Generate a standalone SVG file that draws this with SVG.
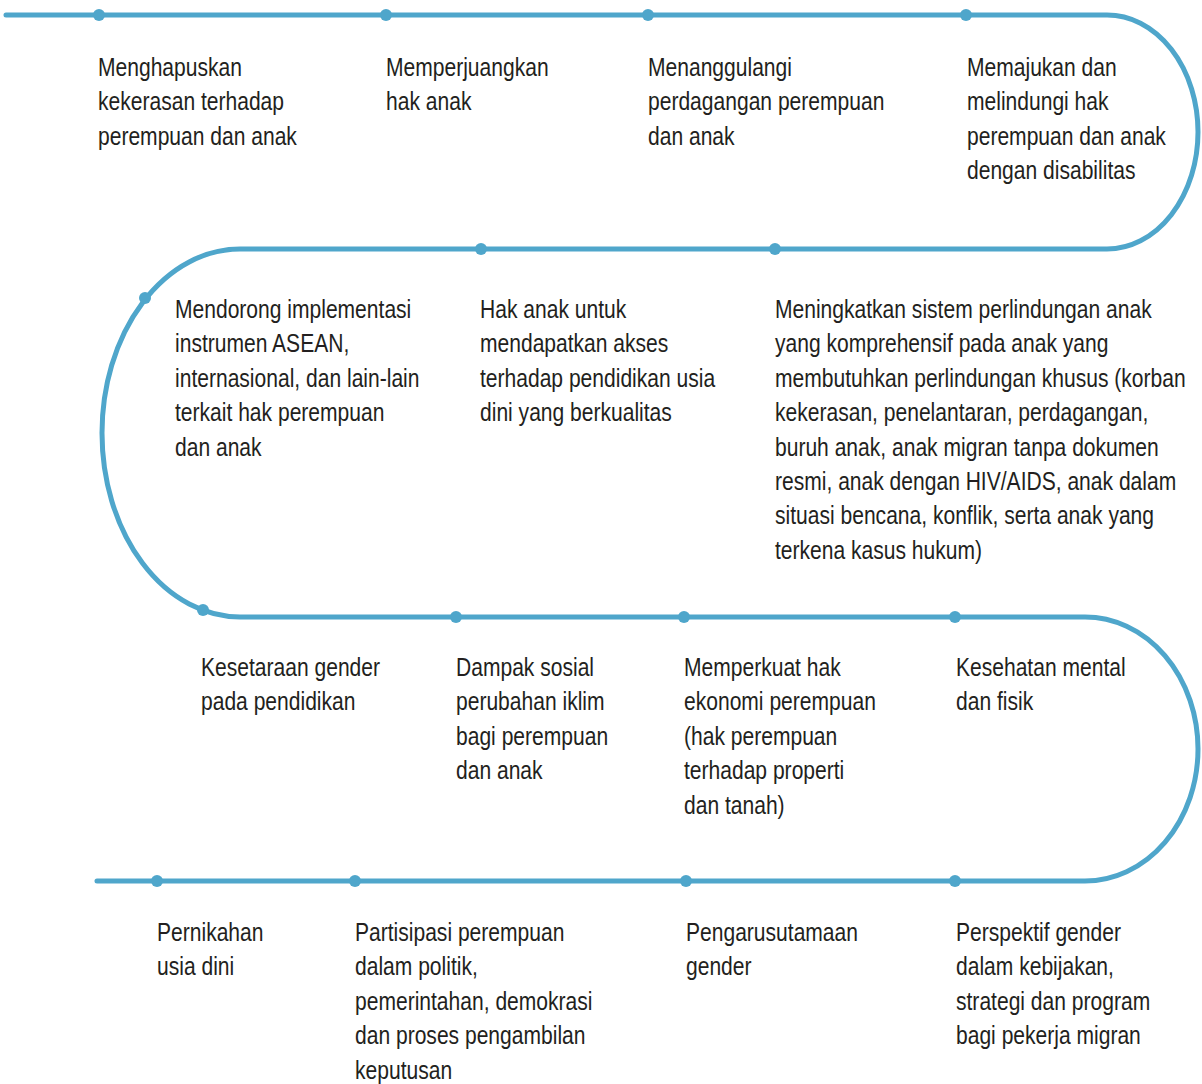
<svg xmlns="http://www.w3.org/2000/svg" width="1202" height="1084" viewBox="0 0 1202 1084">
<style>
.ln{fill:none;stroke:#4fa6cb;stroke-width:5;stroke-linecap:round}
.dot{fill:#4fa6cb}
.t{font-family:"Liberation Sans",Arial,sans-serif;font-size:26px;fill:#231f20}
</style>
<rect width="1202" height="1084" fill="#fff"/>
<g id="connectors">
<path class="ln" d="M6,15 H1107 A91,117 0 0 1 1107,249 H240 A138,184 0 0 0 240,617 H1085 A113,132 0 0 1 1085,881 H97"/>
</g>
<g id="n1"><circle class="dot" cx="99" cy="15" r="6"/><g transform="translate(98,0) scale(0.81,1)"><text class="t" y="76"><tspan x="0">Menghapuskan</tspan><tspan x="0" dy="34.4">kekerasan terhadap</tspan><tspan x="0" dy="34.4">perempuan dan anak</tspan></text></g></g>
<g id="n2"><circle class="dot" cx="386" cy="15" r="6"/><g transform="translate(386,0) scale(0.81,1)"><text class="t" y="76"><tspan x="0">Memperjuangkan</tspan><tspan x="0" dy="34.4">hak anak</tspan></text></g></g>
<g id="n3"><circle class="dot" cx="648" cy="15" r="6"/><g transform="translate(648,0) scale(0.81,1)"><text class="t" y="76"><tspan x="0">Menanggulangi</tspan><tspan x="0" dy="34.4">perdagangan perempuan</tspan><tspan x="0" dy="34.4">dan anak</tspan></text></g></g>
<g id="n4"><circle class="dot" cx="966" cy="15" r="6"/><g transform="translate(967,0) scale(0.81,1)"><text class="t" y="76"><tspan x="0">Memajukan dan</tspan><tspan x="0" dy="34.4">melindungi hak</tspan><tspan x="0" dy="34.4">perempuan dan anak</tspan><tspan x="0" dy="34.4">dengan disabilitas</tspan></text></g></g>
<g id="n5"><circle class="dot" cx="145" cy="298" r="6"/><g transform="translate(175,0) scale(0.81,1)"><text class="t" y="318"><tspan x="0">Mendorong implementasi</tspan><tspan x="0" dy="34.4">instrumen ASEAN,</tspan><tspan x="0" dy="34.4">internasional, dan lain-lain</tspan><tspan x="0" dy="34.4">terkait hak perempuan</tspan><tspan x="0" dy="34.4">dan anak</tspan></text></g></g>
<g id="n6"><circle class="dot" cx="481" cy="249" r="6"/><g transform="translate(480,0) scale(0.81,1)"><text class="t" y="318"><tspan x="0">Hak anak untuk</tspan><tspan x="0" dy="34.4">mendapatkan akses</tspan><tspan x="0" dy="34.4">terhadap pendidikan usia</tspan><tspan x="0" dy="34.4">dini yang berkualitas</tspan></text></g></g>
<g id="n7"><circle class="dot" cx="775" cy="249" r="6"/><g transform="translate(775,0) scale(0.81,1)"><text class="t" y="318"><tspan x="0">Meningkatkan sistem perlindungan anak</tspan><tspan x="0" dy="34.4">yang komprehensif pada anak yang</tspan><tspan x="0" dy="34.4">membutuhkan perlindungan khusus (korban</tspan><tspan x="0" dy="34.4">kekerasan, penelantaran, perdagangan,</tspan><tspan x="0" dy="34.4">buruh anak, anak migran tanpa dokumen</tspan><tspan x="0" dy="34.4">resmi, anak dengan HIV/AIDS, anak dalam</tspan><tspan x="0" dy="34.4">situasi bencana, konflik, serta anak yang</tspan><tspan x="0" dy="34.4">terkena kasus hukum)</tspan></text></g></g>
<g id="n8"><circle class="dot" cx="203" cy="610" r="6"/><g transform="translate(201,0) scale(0.81,1)"><text class="t" y="676"><tspan x="0">Kesetaraan gender</tspan><tspan x="0" dy="34.4">pada pendidikan</tspan></text></g></g>
<g id="n9"><circle class="dot" cx="456" cy="617" r="6"/><g transform="translate(456,0) scale(0.81,1)"><text class="t" y="676"><tspan x="0">Dampak sosial</tspan><tspan x="0" dy="34.4">perubahan iklim</tspan><tspan x="0" dy="34.4">bagi perempuan</tspan><tspan x="0" dy="34.4">dan anak</tspan></text></g></g>
<g id="n10"><circle class="dot" cx="684" cy="617" r="6"/><g transform="translate(684,0) scale(0.81,1)"><text class="t" y="676"><tspan x="0">Memperkuat hak</tspan><tspan x="0" dy="34.4">ekonomi perempuan</tspan><tspan x="0" dy="34.4">(hak perempuan</tspan><tspan x="0" dy="34.4">terhadap properti</tspan><tspan x="0" dy="34.4">dan tanah)</tspan></text></g></g>
<g id="n11"><circle class="dot" cx="955" cy="617" r="6"/><g transform="translate(956,0) scale(0.81,1)"><text class="t" y="676"><tspan x="0">Kesehatan mental</tspan><tspan x="0" dy="34.4">dan fisik</tspan></text></g></g>
<g id="n12"><circle class="dot" cx="157" cy="881" r="6"/><g transform="translate(157,0) scale(0.81,1)"><text class="t" y="941"><tspan x="0">Pernikahan</tspan><tspan x="0" dy="34.4">usia dini</tspan></text></g></g>
<g id="n13"><circle class="dot" cx="355" cy="881" r="6"/><g transform="translate(355,0) scale(0.81,1)"><text class="t" y="941"><tspan x="0">Partisipasi perempuan</tspan><tspan x="0" dy="34.4">dalam politik,</tspan><tspan x="0" dy="34.4">pemerintahan, demokrasi</tspan><tspan x="0" dy="34.4">dan proses pengambilan</tspan><tspan x="0" dy="34.4">keputusan</tspan></text></g></g>
<g id="n14"><circle class="dot" cx="686" cy="881" r="6"/><g transform="translate(686,0) scale(0.81,1)"><text class="t" y="941"><tspan x="0">Pengarusutamaan</tspan><tspan x="0" dy="34.4">gender</tspan></text></g></g>
<g id="n15"><circle class="dot" cx="955" cy="881" r="6"/><g transform="translate(956,0) scale(0.81,1)"><text class="t" y="941"><tspan x="0">Perspektif gender</tspan><tspan x="0" dy="34.4">dalam kebijakan,</tspan><tspan x="0" dy="34.4">strategi dan program</tspan><tspan x="0" dy="34.4">bagi pekerja migran</tspan></text></g></g>
</svg>
